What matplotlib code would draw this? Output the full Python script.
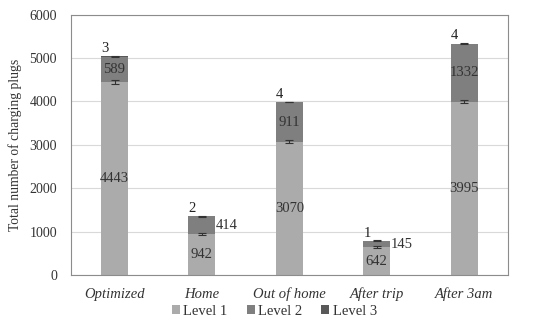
import matplotlib

matplotlib.use("Agg")
import matplotlib.pyplot as plt
import numpy as np

plt.rcParams["font.family"] = ["Liberation Serif", "DejaVu Serif"]

scenarios = ["Optimized", "Home", "Out of home", "After trip", "After 3am"]
level1 = [4443, 942, 3070, 642, 3995]
level2 = [589, 414, 911, 145, 1332]
level3 = [3, 2, 4, 1, 4]
level1_err = [40, 30, 30, 25, 30]
total_err = [10, 10, 10, 10, 10]

c1, c2, c3 = "#ababab", "#7f7f7f", "#595959"

fig = plt.figure(figsize=(5.49, 3.24), dpi=100)
ax = fig.add_axes([0.129, 0.151, 0.796, 0.804])

x = np.arange(len(scenarios))
w = 0.31
l1 = np.array(level1)
l2 = np.array(level2)
l3 = np.array(level3)
tops = l1 + l2 + l3

ax.bar(x, l1, w, color=c1, label="Level 1", zorder=2)
ax.bar(x, l2, w, bottom=l1, color=c2, label="Level 2", zorder=2)
ax.bar(x, l3, w, bottom=l1 + l2, color=c3, label="Level 3", zorder=2)

ax.errorbar(x, l1, yerr=level1_err, fmt="none", ecolor="#333333",
            elinewidth=0.8, capsize=3, capthick=0.8, zorder=3)
ax.errorbar(x, tops, yerr=total_err, fmt="none", ecolor="#333333",
            elinewidth=0.8, capsize=3, capthick=0.8, zorder=3)

fs = 10.5
for i in range(len(scenarios)):
    ax.text(x[i], l1[i] / 2, str(level1[i]), ha="center", va="center",
            fontsize=fs, color="#333333", zorder=4)
    mid2 = l1[i] + l2[i] / 2
    if l2[i] < 500:
        ax.text(x[i] + w / 2, mid2, str(level2[i]), ha="left",
                va="center", fontsize=fs, color="#333333", zorder=4)
    else:
        ax.text(x[i], mid2, str(level2[i]), ha="center", va="center",
                fontsize=fs, color="#333333", zorder=4)
    ax.text(x[i] - 0.07, tops[i] + 30, str(level3[i]), ha="right",
            va="bottom", fontsize=fs, color="#222222", zorder=4)

ax.set_xlim(-0.5, len(scenarios) - 0.5)
ax.set_ylim(0, 6000)
ax.set_yticks(np.arange(0, 6001, 1000))
ax.set_xticks(x)
ax.set_xticklabels(scenarios, fontstyle="italic", fontsize=10.5, color="#333333")
ax.tick_params(axis="y", labelsize=10, colors="#333333", length=0, pad=10)
ax.tick_params(axis="x", length=0, pad=9)
ax.set_ylabel("Total number of charging plugs", fontsize=9.8, color="#333333")
ax.yaxis.set_label_coords(-0.111, 0.5)
ax.grid(axis="y", color="#d9d9d9", linewidth=0.8, zorder=0)
for side in ax.spines.values():
    side.set_color("#8c8c8c")
    side.set_linewidth(0.8)

fig.legend(loc="center", bbox_to_anchor=(0.5, 0.04), ncol=3, frameon=False,
           fontsize=10.5, handlelength=0.55, handleheight=0.55, handletextpad=0.25,
           columnspacing=1.3, labelcolor="#333333")

fig.savefig("out.png", dpi=100)
